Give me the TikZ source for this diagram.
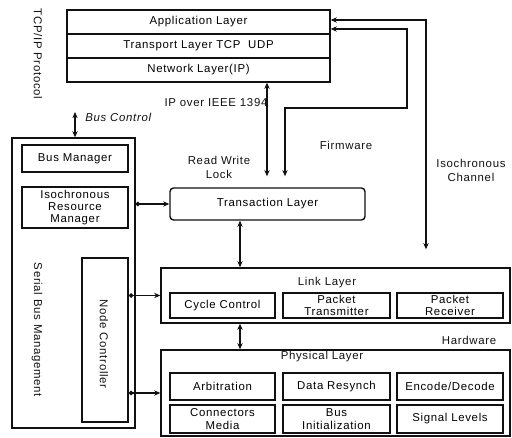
\documentclass[tikz,border=0pt]{standalone}
\usepackage{fontspec}
\setmainfont{Liberation Sans}[LetterSpace=6]
\usepackage{tikz}
\usetikzlibrary{
  arrows.meta,
  positioning,
  calc
}
\definecolor{inkblack}{HTML}{111111}
\newcommand{\lblfont}{\fontsize{6.5}{7}\selectfont}
\tikzset{
  stackbox/.style={
    rectangle, draw=inkblack, line width=0.8pt, inner sep=0pt,
    minimum width=5.26cm, minimum height=0.48cm, font=\lblfont
  },
  layerbox/.style={
    rectangle, draw=inkblack, line width=0.8pt, inner sep=0pt,
    align=center, font=\lblfont
  },
  modbox/.style={
    rectangle, draw=inkblack, line width=1.1pt, inner sep=0pt,
    minimum width=2.12cm, align=center, font=\lblfont
  },
  annot/.style={
    font=\lblfont, align=center, inner sep=0pt, text=inkblack
  },
  dblarrow/.style={
    {Stealth[length=3.5pt,width=3pt]}-{Stealth[length=3.5pt,width=3pt]},
    line width=0.7pt, draw=inkblack
  },
  sidearrow/.style={
    {Circle[length=2.5pt]}-{Stealth[length=3.5pt,width=3pt]},
    line width=0.7pt, draw=inkblack
  },
}

\begin{document}
\begin{tikzpicture}[x=0.02cm, y=-0.02cm]
  \useasboundingbox (0,0) rectangle (512,438);

  %% ── TCP/IP stack ──────────────────────────────────────────────────────────
  \node[stackbox] (app)  at (198.5,22) {Application Layer};
  \node[stackbox] (tport) at (198.5,46) {Transport Layer TCP \ UDP};
  \node[stackbox] (net)  at (198.5,70) {Network Layer(IP)};
  \node[annot, rotate=-90] (tcpip) at (38,54) {TCP/IP Protocol};

  %% ── Serial bus management ────────────────────────────────────────────────
  \node[layerbox, minimum width=2.46cm, minimum height=5.8cm] (sbm) at (73.5,283) {};
  \node[modbox, minimum height=0.54cm] (busmgr) at (75,158.5) {Bus Manager};
  \node[modbox, minimum height=0.82cm] (irm) at (75,207.5)
        {Isochronous\\Resource\\Manager};
  \node[layerbox, line width=1.1pt, minimum width=0.92cm, minimum height=3.28cm]
        (nodectl) at (105,340) {};
  \node[annot, rotate=-90] (nodectltxt) at (104,344) {Node Controller};
  \node[annot, rotate=-90] (sbmtxt) at (37,330) {Serial Bus Management};

  %% ── Transaction layer ────────────────────────────────────────────────────
  \node[layerbox, rounded corners=2pt, minimum width=3.9cm, minimum height=0.64cm]
        (trans) at (267.5,204) {Transaction Layer};

  %% ── Link layer ───────────────────────────────────────────────────────────
  \node[layerbox, minimum width=6.98cm, minimum height=1.1cm] (link) at (335.5,295.5) {};
  \node[annot] (linktxt) at (327,283) {Link Layer};
  \node[modbox, minimum width=2.1cm, minimum height=0.5cm] (cycle) at (222.5,305.5) {Cycle Control};
  \node[modbox, minimum width=2.14cm, minimum height=0.5cm] (ptx) at (336.5,305.5) {Packet\\Transmitter};
  \node[modbox, minimum height=0.5cm] (prx) at (450,305.5) {Packet\\Receiver};

  %% ── Physical layer ───────────────────────────────────────────────────────
  \node[layerbox, minimum width=6.98cm, minimum height=1.72cm] (phys) at (335.5,393) {};
  \node[annot] (phystxt) at (322,357) {Physical Layer};
  \node[modbox, minimum width=2.1cm, minimum height=0.54cm] (arb) at (222.5,386.5) {Arbitration};
  \node[modbox, minimum width=2.14cm, minimum height=0.54cm] (resync) at (336.5,386.5) {Data Resynch};
  \node[modbox, minimum height=0.54cm] (encdec) at (450,386.5) {Encode/Decode};
  \node[modbox, minimum width=2.1cm, minimum height=0.56cm] (conn) at (222.5,419) {Connectors\\Media};
  \node[modbox, minimum width=2.14cm, minimum height=0.56cm] (businit) at (336.5,419) {Bus\\Initialization};
  \node[modbox, minimum height=0.56cm] (siglev) at (450,419) {Signal Levels};

  %% ── Labels ───────────────────────────────────────────────────────────────
  \node[annot] (ipover) at (216,103) {IP over IEEE 1394};
  \node[annot, anchor=west, font=\lblfont\itshape] (busctl) at (85,117) {Bus Control};
  \node[annot] (rwl) at (219,167.5) {Read Write\\[1pt]Lock};
  \node[annot] (fw) at (346,145) {Firmware};
  \node[annot] (isoch) at (471,170) {Isochronous\\[1pt]Channel};
  \node[annot] (hw) at (469,340) {Hardware};

  %% ── Arrows ───────────────────────────────────────────────────────────────
  \coordinate (ipx)   at (267,0);
  \coordinate (chtop) at (426,20);
  \coordinate (fwtop) at (407,29);
  \coordinate (fwmid) at (407,108);
  \coordinate (fwbot) at (285,108);
  \coordinate (tlx)   at (240,0);
  \coordinate (bcx)   at (75,112);

  % upper stack
  \draw[dblarrow, shorten >=0.22cm] (net.south -| ipx) -- (trans.north -| ipx);
  \draw[dblarrow, shorten >=0.22cm] (app.east |- fwtop) -- (fwtop) -- (fwmid)
        -- (fwbot) -- (trans.north -| fwbot);
  \draw[dblarrow, shorten >=0.36cm] (app.east |- chtop) -- (chtop) -- (link.north -| chtop);

  % layer to layer
  \draw[dblarrow] (trans.south -| tlx) -- (link.north -| tlx);
  \draw[dblarrow] (link.south -| tlx) -- (phys.north -| tlx);

  % management
  \draw[dblarrow] (sbm.north -| bcx) -- (bcx);
  \draw[sidearrow] (sbm.east |- trans.west) -- (trans.west);
  \draw[sidearrow] (nodectl.east |- link.west) -- (link.west);
  \draw[sidearrow] (nodectl.east |- phys.west) -- (phys.west);

\end{tikzpicture}
\end{document}
